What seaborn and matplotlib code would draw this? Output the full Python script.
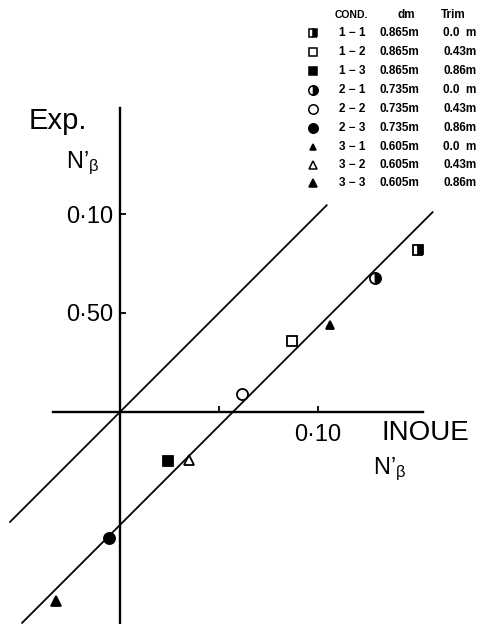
import matplotlib
matplotlib.use("Agg")
import matplotlib.pyplot as plt
import seaborn as sns
import pandas as pd

sns.set_theme(style="white")
plt.rcParams["font.family"] = ["Liberation Sans", "DejaVu Sans"]
plt.rcParams["mathtext.fontset"] = "custom"
plt.rcParams["mathtext.rm"] = "Liberation Sans"
plt.rcParams["mathtext.it"] = "Liberation Sans"

# Test conditions and measured points (x: INOUE N'β, y: Exp. N'β)
conds = ["1-1", "1-2", "1-3", "2-1", "2-2", "2-3", "3-1", "3-2", "3-3"]
cond_labels = ["1 − 1", "1 − 2", "1 − 3", "2 − 1", "2 − 2", "2 − 3", "3 − 1", "3 − 2", "3 − 3"]
dm_labels = ["0.865m", "0.865m", "0.865m", "0.735m", "0.735m", "0.735m", "0.605m", "0.605m", "0.605m"]
trim_labels = ["0.0  m", "0.43m", "0.86m", "0.0  m", "0.43m", "0.86m", "0.0  m", "0.43m", "0.86m"]
inoue = [0.1505, 0.0869, 0.0242, 0.1288, 0.0616, -0.0056, 0.1060, 0.0348, -0.0323]
exp = [0.0818, 0.0359, -0.0247, 0.0677, 0.0091, -0.0636, 0.0440, -0.0242, -0.0955]

# Reference lines: y = x and the shifted fit line
line_x = [-0.0556, 0.1045, -0.0495, 0.1580]
line_y = [-0.0556, 0.1045, -0.1066, 0.1010]
line_id = ["equal", "equal", "fit", "fit"]

ytick_vals = [0.05, 0.10]
ytick_labels = ["0·50", "0·10"]
xtick_vals = [0.05, 0.10]
xtick_labels = ["", "0·10"]

# marker, fillstyle, size for each condition
styles = {
    "1-1": ("s", "right", 7.5),
    "1-2": ("s", "none", 7.5),
    "1-3": ("s", "full", 7.5),
    "2-1": ("o", "right", 8),
    "2-2": ("o", "none", 8),
    "2-3": ("o", "full", 8),
    "3-1": ("^", "full", 5.5),
    "3-2": ("^", "none", 7),
    "3-3": ("^", "full", 7),
}

W, H = 487, 624
fig = plt.figure(figsize=(W / 100, H / 100), dpi=100)
ax = fig.add_axes([0, 0, 1, 1])
ax.set_facecolor("white")
ax.set_xlim(-0.0606, 0.1854)
ax.set_ylim(-0.1071, 0.2081)

lines_df = pd.DataFrame({"x": line_x, "y": line_y, "id": line_id})
sns.lineplot(data=lines_df, x="x", y="y", units="id", estimator=None,
             color="black", lw=1.3, ax=ax, legend=False, sort=False)

for c, xv, yv in zip(conds, inoue, exp):
    m, fs, ms = styles[c]
    ax.plot([xv], [yv], marker=m, fillstyle=fs, markersize=ms, color="black",
            markerfacecolor="black", markerfacecoloralt="white",
            markeredgecolor="black", markeredgewidth=1.3, linestyle="none", zorder=5)

# Axes through the origin
for s in ["top", "right"]:
    ax.spines[s].set_visible(False)
ax.spines["left"].set_position(("data", 0))
ax.spines["bottom"].set_position(("data", 0))
ax.spines["left"].set_bounds(-0.107, 0.1535)
ax.spines["bottom"].set_bounds(-0.0338, 0.153)
for s in ["left", "bottom"]:
    ax.spines[s].set_color("black")
    ax.spines[s].set_linewidth(1.7)
ax.set_yticks(ytick_vals, ytick_labels)
ax.set_xticks(xtick_vals, xtick_labels)
ax.tick_params(axis="y", direction="in", length=4, width=1.3, pad=5,
               labelsize=17, colors="black", left=True)
ax.tick_params(axis="x", direction="in", length=4, width=1.3, pad=9,
               labelsize=17, colors="black", bottom=True)
ax.set_xlabel("")
ax.set_ylabel("")


def px(x, y):
    return x / W, 1 - y / H


nb = "$\\mathrm{N\u2019}_{\\beta}$"
ax.text(*px(58, 121), "Exp.", transform=ax.transAxes, fontsize=21,
        ha="center", va="center", color="black")
ax.text(*px(83, 163), nb, transform=ax.transAxes, fontsize=17,
        ha="center", va="center", color="black")
ax.text(*px(425, 433), "INOUE", transform=ax.transAxes, fontsize=20,
        ha="center", va="center", color="black")
ax.text(*px(390, 469), nb, transform=ax.transAxes, fontsize=17,
        ha="center", va="center", color="black")

# Condition table
hdr_y = 15
lbl = dict(transform=ax.transAxes, fontsize=8.5, fontweight="bold",
           color="black", va="center")
ax.text(*px(351, hdr_y), "COND.", ha="center", **{**lbl, "fontsize": 7.5})
ax.text(*px(406, hdr_y), "dm", ha="center", **lbl)
ax.text(*px(453, hdr_y), "Trim", ha="center", **lbl)
row_y = [33, 52, 71, 90, 109, 128, 147, 165, 183]
for c, cl, dl, tl, ry in zip(conds, cond_labels, dm_labels, trim_labels, row_y):
    m, fs, ms = styles[c]
    ax.plot(*[[v] for v in px(313, ry)], transform=ax.transAxes, marker=m,
            fillstyle=fs, markersize=ms * 0.85, color="black",
            markerfacecolor="black", markerfacecoloralt="white",
            markeredgecolor="black", markeredgewidth=1.1, linestyle="none",
            clip_on=False)
    ax.text(*px(352, ry), cl, ha="center", **lbl)
    ax.text(*px(380, ry), dl, ha="left", **lbl)
    ax.text(*px(443, ry), tl, ha="left", **lbl)

fig.savefig("out.png", dpi=100, facecolor="white")
